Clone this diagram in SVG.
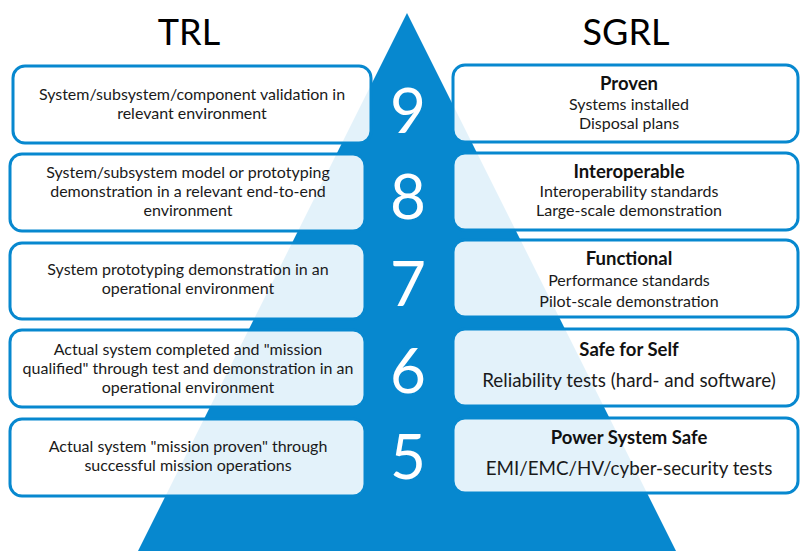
<svg xmlns="http://www.w3.org/2000/svg" width="800" height="551" viewBox="0 0 800 551">
<style>
.box{fill:#ffffff;fill-opacity:0.89;stroke:#0788cf;stroke-width:3}
.head{font-family:Lato,"Open Sans",sans-serif;font-size:36px;fill:#000;text-anchor:middle}
.num{font-family:Lato,"Open Sans",sans-serif;font-size:62px;fill:#fff;text-anchor:middle}
.lt{font-family:Lato,"Open Sans",sans-serif;font-size:16px;fill:#1a1a1a;text-anchor:middle}
.rt{font-family:Lato,"Open Sans",sans-serif;font-size:16px;fill:#1a1a1a;text-anchor:middle}
.rb{font-family:Lato,"Open Sans",sans-serif;font-size:18.5px;font-weight:bold;fill:#111;text-anchor:middle}
.rl{font-family:Lato,"Open Sans",sans-serif;font-size:18.8px;fill:#1a1a1a;text-anchor:middle}
</style>
<rect width="800" height="551" fill="#fff"/>
<g id="pyramid"><polygon points="407,13 138,551 676,551" fill="#0788cf"/></g>
<g id="headers">
<text class="head" x="189" y="45">TRL</text>
<text class="head" x="626" y="45">SGRL</text>
</g>
<g id="numbers">
<text class="num" x="408" y="133">9</text>
<text class="num" x="408" y="219">8</text>
<text class="num" x="408" y="306">7</text>
<text class="num" x="408" y="393">6</text>
<text class="num" x="408" y="479">5</text>
</g>
<g id="trl9"><rect class="box" x="13" y="66" width="358" height="77" rx="12"/>
<text class="lt" x="192" y="100">System/subsystem/component validation in</text>
<text class="lt" x="192" y="119">relevant environment</text></g>
<g id="trl8"><rect class="box" x="10" y="154" width="355" height="77" rx="12"/>
<text class="lt" x="188" y="178">System/subsystem model or prototyping</text>
<text class="lt" x="188" y="197">demonstration in a relevant end-to-end</text>
<text class="lt" x="188" y="216">environment</text></g>
<g id="trl7"><rect class="box" x="10" y="243" width="355" height="76" rx="12"/>
<text class="lt" x="188" y="275">System prototyping demonstration in an</text>
<text class="lt" x="188" y="294">operational environment</text></g>
<g id="trl6"><rect class="box" x="10" y="330" width="355" height="77" rx="12"/>
<text class="lt" x="188" y="355">Actual system completed and "mission</text>
<text class="lt" x="188" y="374">qualified" through test and demonstration in an</text>
<text class="lt" x="188" y="393">operational environment</text></g>
<g id="trl5"><rect class="box" x="10" y="419" width="355" height="77" rx="12"/>
<text class="lt" x="188" y="452">Actual system "mission proven" through</text>
<text class="lt" x="188" y="471">successful mission operations</text></g>
<g id="sgrl9"><rect class="box" x="453" y="65" width="345" height="77" rx="12"/>
<text class="rb" x="629" y="90">Proven</text>
<text class="rt" x="629" y="110">Systems installed</text>
<text class="rt" x="629" y="129">Disposal plans</text></g>
<g id="sgrl8"><rect class="box" x="453" y="153" width="345" height="77" rx="12"/>
<text class="rb" x="629" y="178">Interoperable</text>
<text class="rt" x="629" y="197">Interoperability standards</text>
<text class="rt" x="629" y="216">Large-scale demonstration</text></g>
<g id="sgrl7"><rect class="box" x="453" y="240" width="345" height="77" rx="12"/>
<text class="rb" x="629" y="265">Functional</text>
<text class="rt" x="629" y="286">Performance standards</text>
<text class="rt" x="629" y="307">Pilot-scale demonstration</text></g>
<g id="sgrl6"><rect class="box" x="453" y="329" width="345" height="77" rx="12"/>
<text class="rb" x="629" y="356">Safe for Self</text>
<text class="rl" x="629" y="387">Reliability tests (hard- and software)</text></g>
<g id="sgrl5"><rect class="box" x="453" y="418" width="345" height="75" rx="12"/>
<text class="rb" x="629" y="444">Power System Safe</text>
<text class="rl" x="629" y="475">EMI/EMC/HV/cyber-security tests</text></g>
<g id="connectors"></g>
</svg>
